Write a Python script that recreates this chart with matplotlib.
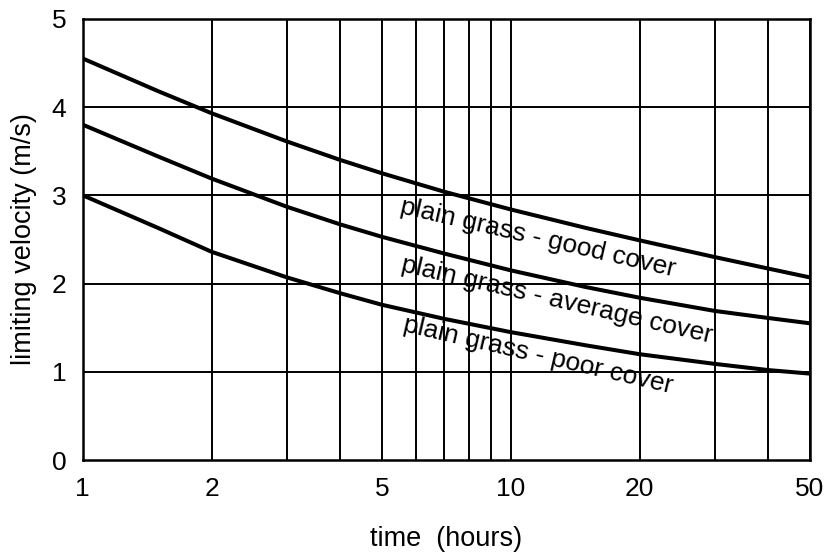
import matplotlib.pyplot as plt
from matplotlib.ticker import FixedLocator, NullFormatter

plt.rcParams['font.family'] = ['Liberation Sans', 'DejaVu Sans']

# time (hours) and limiting velocity (m/s)
hours = [1, 1.5, 2, 3, 4, 5, 7, 10, 15, 20, 30, 40, 50]
good_cover = [4.55, 4.18, 3.93, 3.61, 3.40, 3.25, 3.04, 2.84, 2.63, 2.49, 2.30, 2.17, 2.07]
average_cover = [3.80, 3.44, 3.19, 2.87, 2.67, 2.53, 2.34, 2.15, 1.96, 1.84, 1.69, 1.61, 1.55]
poor_cover = [3.00, 2.63, 2.36, 2.07, 1.89, 1.76, 1.60, 1.45, 1.30, 1.20, 1.09, 1.02, 0.98]

curve_labels = ["plain grass - good cover", "plain grass - average cover", "plain grass - poor cover"]
label_x = [11.6, 12.8, 11.6]
label_y = [2.52, 1.81, 1.19]

x_ticks = [1, 2, 5, 10, 20, 50]
x_grid = [1, 2, 3, 4, 5, 6, 7, 8, 9, 10, 20, 30, 40, 50]
y_ticks = [0, 1, 2, 3, 4, 5]

fig = plt.figure(figsize=(8.28, 5.53), dpi=100)
ax = fig.add_axes([0.100, 0.168, 0.878, 0.798])

ax.set_xscale('log')
ax.set_xlim(1, 50)
ax.set_ylim(0, 5)

# grid lines
for g in x_grid:
    ax.axvline(g, color='black', lw=1.4, zorder=1)
for g in y_ticks[1:-1]:
    ax.axhline(g, color='black', lw=1.4, zorder=1)

for series in (good_cover, average_cover, poor_cover):
    ax.plot(hours, series, color='black', lw=2.9, zorder=3,
            solid_joinstyle='round', solid_capstyle='butt')

for text, tx, ty in zip(curve_labels, label_x, label_y):
    ax.text(tx, ty, text, fontsize=19, rotation=-13, ha='center', va='center',
            rotation_mode='anchor', zorder=4)

ax.xaxis.set_major_locator(FixedLocator(x_ticks))
ax.xaxis.set_minor_locator(FixedLocator([]))
ax.xaxis.set_minor_formatter(NullFormatter())
ax.set_xticklabels([str(t) for t in x_ticks])
ax.set_yticks(y_ticks)
ax.tick_params(axis='both', length=0, labelsize=19)
ax.tick_params(axis='x', pad=12)
ax.tick_params(axis='y', pad=12)

for s in ax.spines.values():
    s.set_linewidth(1.8)
    s.set_color('black')

ax.set_xlabel("time  (hours)", fontsize=19.5, labelpad=18)
ax.set_ylabel("limiting velocity (m/s)", fontsize=19.5, labelpad=10)

fig.savefig("out.png", dpi=100)
